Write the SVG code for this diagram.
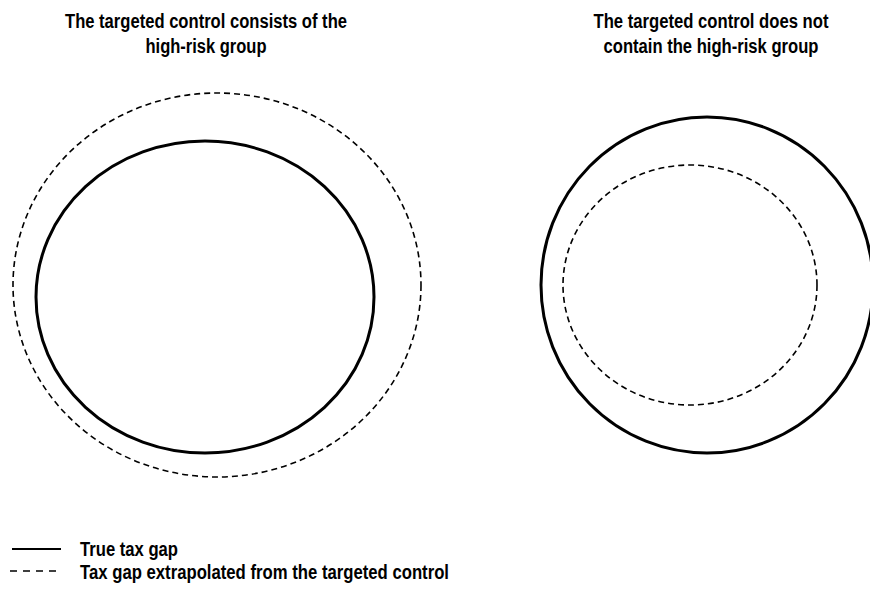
<svg xmlns="http://www.w3.org/2000/svg" width="870" height="592" viewBox="0 0 870 592">
<style>
text{font-family:"Liberation Sans",Arial,sans-serif;font-weight:bold;font-size:20px;fill:#000}
.t{text-anchor:middle}
.solid{fill:none;stroke:#000;stroke-width:3}
.dash{fill:none;stroke:#000;stroke-width:1.6;stroke-dasharray:6 4}
</style>
<rect width="870" height="592" fill="#fff"/>
<g id="left">
<text class="t" x="206" y="28" textLength="282" lengthAdjust="spacingAndGlyphs">The targeted control consists of the</text>
<text class="t" x="206" y="53" textLength="121" lengthAdjust="spacingAndGlyphs">high-risk group</text>
<ellipse class="dash" cx="217" cy="285" rx="204" ry="192"/>
<ellipse class="solid" cx="205" cy="297" rx="169" ry="156"/>
</g>
<g id="right">
<text class="t" x="711" y="28" textLength="235" lengthAdjust="spacingAndGlyphs">The targeted control does not</text>
<text class="t" x="711" y="53" textLength="215" lengthAdjust="spacingAndGlyphs">contain the high-risk group</text>
<ellipse class="solid" cx="707" cy="285" rx="166" ry="168"/>
<ellipse class="dash" cx="690" cy="285" rx="127" ry="120"/>
</g>
<g id="legend">
<line class="solid" x1="12" y1="549" x2="61" y2="549" style="stroke-width:2"/>
<text x="80" y="556" textLength="98" lengthAdjust="spacingAndGlyphs">True tax gap</text>
<line class="dash" x1="10" y1="571" x2="61" y2="571" style="stroke-dasharray:7 6"/>
<text x="80" y="579" textLength="369" lengthAdjust="spacingAndGlyphs">Tax gap extrapolated from the targeted control</text>
</g>
</svg>
